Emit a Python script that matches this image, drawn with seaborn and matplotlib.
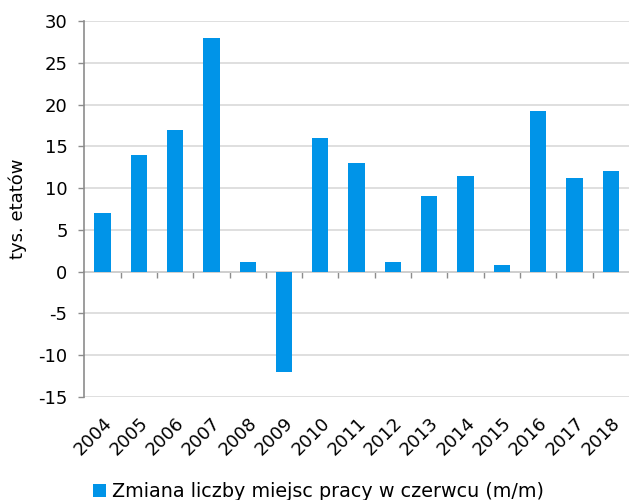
import matplotlib
matplotlib.use("Agg")
import matplotlib.pyplot as plt
from matplotlib.patches import Patch
import pandas as pd
import seaborn as sns

years = ["2004", "2005", "2006", "2007", "2008", "2009", "2010", "2011",
         "2012", "2013", "2014", "2015", "2016", "2017", "2018"]
change = [7.0, 14.0, 17.0, 28.0, 1.1, -12.0, 16.0, 13.0,
          1.1, 9.0, 11.5, 0.75, 19.2, 11.2, 12.0]
series_name = "Zmiana liczby miejsc pracy w czerwcu (m/m)"
y_label = "tys. etatów"

BLUE = "#0094e8"
GRID = "#d9d9d9"
AXIS = "#8c8c8c"
FS = 13

sns.set_style("white")
plt.rcParams["font.family"] = ["DejaVu Sans"]
plt.rcParams["axes.unicode_minus"] = False
plt.rcParams["text.color"] = "black"
plt.rcParams["xtick.labelcolor"] = "black"
plt.rcParams["ytick.labelcolor"] = "black"
plt.rcParams["axes.labelcolor"] = "black"

df = pd.DataFrame({"year": years, "value": change})

fig = plt.figure(figsize=(6.29, 5.0), dpi=100)
ax = fig.add_axes([0.134, 0.206, 0.866, 0.752])

sns.barplot(data=df, x="year", y="value", color=BLUE, width=0.45,
            saturation=1, linewidth=0, ax=ax)

ymin, ymax = -15, 30
ax.set_ylim(ymin, ymax)
ax.set_xlim(-0.5, len(years) - 0.5)
ax.set_yticks(range(-15, 31, 5))
ax.yaxis.grid(True, color=GRID, linewidth=1.2)
ax.set_axisbelow(True)

for side in ["top", "right", "bottom"]:
    ax.spines[side].set_visible(False)
ax.spines["left"].set_color(AXIS)
ax.spines["left"].set_linewidth(1.2)

ax.tick_params(axis="y", left=True, length=4, width=1, color=AXIS,
               labelsize=FS, pad=8)
ax.tick_params(axis="x", bottom=False, length=0, labelsize=FS, pad=12)
plt.setp(ax.get_xticklabels(), rotation=45, ha="right",
         rotation_mode="anchor")

ax.set_xlabel("")
ax.set_ylabel(y_label, fontsize=FS, labelpad=8)

# zero line with category boundary ticks
zero_loc = (0 - ymin) / (ymax - ymin)
sec = ax.secondary_xaxis(zero_loc)
sec.spines["bottom"].set_color(AXIS)
sec.spines["bottom"].set_linewidth(1.2)
sec.set_xticks([i + 0.5 for i in range(len(years) - 1)])
sec.tick_params(axis="x", length=4, width=1, color=AXIS, labelbottom=False)

fig.legend(handles=[Patch(facecolor=BLUE, edgecolor="none")],
           labels=[series_name], loc="center",
           bbox_to_anchor=(0.506, 0.017), frameon=False, fontsize=13.8,
           handlelength=0.7, handleheight=0.7, handletextpad=0.3)

fig.savefig("out.png", dpi=100)
